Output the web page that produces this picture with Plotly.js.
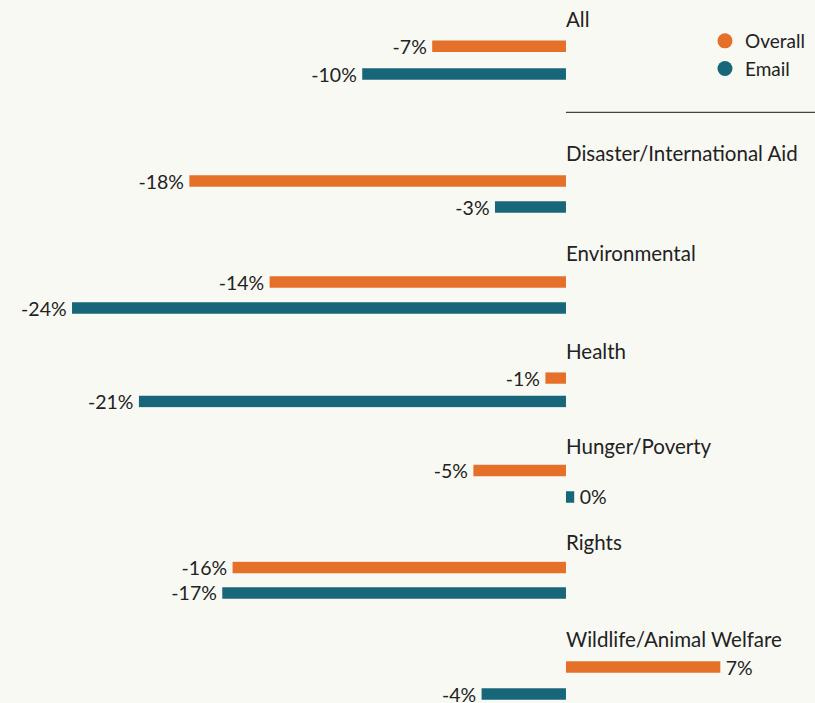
<!DOCTYPE html>
<html>
<head>
<meta charset="utf-8">
<script src="https://cdn.plot.ly/plotly-3.0.1.min.js"></script>
<style>
  html, body { margin: 0; padding: 0; background: #f9f9f4; }
  #chart { width: 815px; height: 703px; }
</style>
</head>
<body>
<div id="chart"></div>
<script>
// ---- data ----
const categories = ['All', 'Disaster/International Aid', 'Environmental', 'Health', 'Hunger/Poverty', 'Rights', 'Wildlife/Animal Welfare'];
const overallValues = [-6.5, -18.3, -14.4, -1.0, -4.5, -16.2, 7.5];
const emailValues = [-9.9, -3.45, -24.0, -20.75, 0.4, -16.7, -4.1];
const overallLabels = ['-7%', '-18%', '-14%', '-1%', '-5%', '-16%', '7%'];
const emailLabels = ['-10%', '-3%', '-24%', '-21%', '0%', '-17%', '-4%'];
const seriesNames = ['Overall', 'Email'];

// ---- layout / style (pixel positions of each facet) ----
const W = 815, H = 703;
const facetOverallPx = [46.2, 181, 282, 378, 470.5, 567.5, 667];
const facetEmailPx = [74, 207, 308, 401.5, 497, 593, 694];
const facetTitlePx = [18.8, 153, 253, 350.7, 446.3, 541.7, 638.8];
const barPx = 11.5;
const colors = { Overall: '#e4702a', Email: '#17667a' };
const textColor = '#222222';
const fontFamily = 'Lato, "Open Sans", sans-serif';
const gapChar = '\u2009';

const traces = [];
const layout = {
  width: W, height: H,
  margin: { l: 0, r: 0, t: 0, b: 0, pad: 0 },
  paper_bgcolor: '#f9f9f4',
  plot_bgcolor: 'rgba(0,0,0,0)',
  font: { family: fontFamily, color: textColor, size: 19.5 },
  showlegend: true,
  legend: {
    x: 0.865, xanchor: 'left', y: 1 - 22 / H, yanchor: 'top',
    tracegroupgap: 0,
    bgcolor: 'rgba(0,0,0,0)', font: { size: 19, color: textColor, family: fontFamily },
    itemclick: false, itemdoubleclick: false
  },
  xaxis: {
    range: [-27.5, 12.1], visible: false, showgrid: false, zeroline: false, fixedrange: true
  },
  annotations: [],
  shapes: [{
    type: 'line', xref: 'x', yref: 'paper',
    x0: 0, x1: 12.1, y0: 1 - 112.3 / H, y1: 1 - 112.3 / H,
    line: { color: '#444444', width: 1.2 }
  }]
};

categories.forEach((cat, i) => {
  const o = facetOverallPx[i], e = facetEmailPx[i];
  const d = e - o;
  const top = o - d / 4, bottom = e + d / 4;
  const axName = i === 0 ? 'yaxis' : 'yaxis' + (i + 1);
  const axRef = i === 0 ? 'y' : 'y' + (i + 1);
  layout[axName] = {
    domain: [1 - bottom / H, 1 - top / H],
    type: 'category', categoryorder: 'array', categoryarray: ['Email', 'Overall'],
    range: [-0.25, 1.25], visible: false, showgrid: false, zeroline: false,
    fixedrange: true, anchor: 'x'
  };
  const width = barPx / d;
  const vals = { Overall: overallValues[i], Email: emailValues[i] };
  const labs = { Overall: overallLabels[i], Email: emailLabels[i] };
  seriesNames.forEach(s => {
    const v = vals[s];
    const label = v < 0 ? labs[s] + gapChar : gapChar + labs[s];
    traces.push({
      type: 'bar', orientation: 'h',
      x: [v], y: [s], width: [width],
      xaxis: 'x', yaxis: axRef,
      name: s, showlegend: false,
      marker: { color: colors[s] },
      text: [label], textposition: 'outside', cliponaxis: false, constraintext: 'none',
      textfont: { size: 19.5, color: textColor, family: fontFamily },
      hoverinfo: 'skip'
    });
  });
  layout.annotations.push({
    text: cat, xref: 'x', yref: 'paper', x: 0, y: 1 - facetTitlePx[i] / H,
    xanchor: 'left', yanchor: 'middle', showarrow: false, xshift: -2,
    font: { size: 20.5, color: textColor, family: fontFamily }
  });
});

// legend entries drawn as circles
seriesNames.forEach(s => {
  traces.push({
    type: 'scatter', mode: 'markers', x: [null], y: [null], xaxis: 'x', yaxis: 'y',
    name: s, showlegend: true,
    marker: { color: colors[s], size: 15, symbol: 'circle' }, hoverinfo: 'skip'
  });
});

Plotly.newPlot('chart', traces, layout, { displayModeBar: false, staticPlot: true });
</script>
</body>
</html>
